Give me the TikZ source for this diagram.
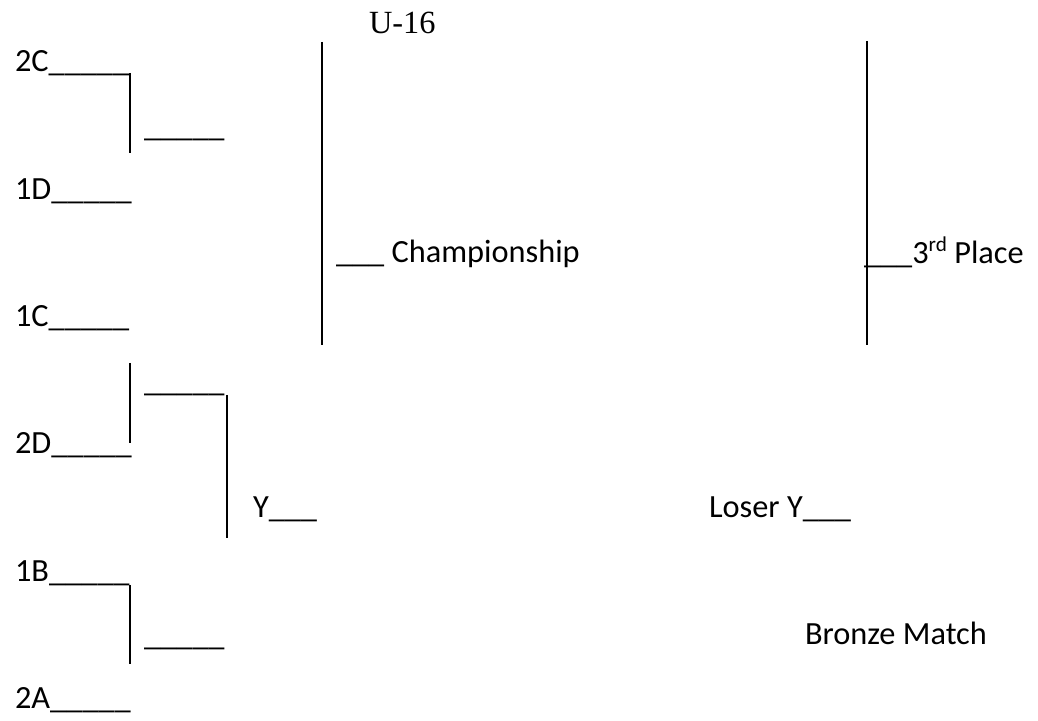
\documentclass[tikz,border=0pt]{standalone}
\usepackage{fontspec}
\setmainfont{Carlito}
\newfontfamily\titlefont{Liberation Serif}
\newlength{\du}
\setlength{\du}{0.34pt}
\newcommand{\ordsup}[1]{\raisebox{0.36em}{\fontsize{7.2}{8}\selectfont #1}}
\tikzset{entry/.style={anchor=base west, inner sep=0pt, font=\fontsize{11}{13}\selectfont}}
\begin{document}
\begin{tikzpicture}
\pgftransformxscale{1.000000}
\pgftransformyscale{-1.000000}
\useasboundingbox (0\du,0\du) rectangle (1038\du,721\du);
\definecolor{bracketcolor}{rgb}{0.000000, 0.000000, 0.000000}
\pgfsetstrokecolor{bracketcolor}
\pgfsetlinewidth{2.000000\du}
% title
\node[entry, font=\titlefont\fontsize{11}{13}\selectfont] (title) at (368\du,34\du){U-16};
% first round
\node[entry] (s2C) at (14\du,72\du){2C\_\_\_\_\_};
\node[entry] (s1D) at (14\du,200\du){1D\_\_\_\_\_};
\node[entry] (s1C) at (14\du,327\du){1C\_\_\_\_\_};
\node[entry] (s2D) at (14\du,454\du){2D\_\_\_\_\_};
\node[entry] (s1B) at (14\du,582\du){1B\_\_\_\_\_};
\node[entry] (s2A) at (14\du,709\du){2A\_\_\_\_\_};
\draw (130\du,73\du)--(130\du,153\du);
\draw (130\du,363\du)--(130\du,443\du);
\draw (130\du,585\du)--(130\du,664\du);
% second round
\node[entry] (w1) at (143\du,136.5\du){\_\_\_\_\_};
\node[entry] (w2) at (143\du,391.5\du){\_\_\_\_\_};
\node[entry] (w3) at (143\du,645.5\du){\_\_\_\_\_};
\draw (227\du,395\du)--(227\du,538\du);
\node[entry] (semiY) at (252\du,518\du){Y\_\_\_};
% finals
\draw (322\du,42\du)--(322\du,345\du);
\node[entry] (champ) at (335\du,263\du){\_\_\_ Championship};
\draw (867\du,41\du)--(867\du,345\du);
\node[entry] (third) at (863\du,263.5\du){\_\_\_3\ordsup{rd} Place};
\node[entry] (loserY) at (708\du,518\du){Loser Y\_\_\_};
\node[entry] (bronze) at (804\du,645\du){Bronze Match};
\end{tikzpicture}
\end{document}
